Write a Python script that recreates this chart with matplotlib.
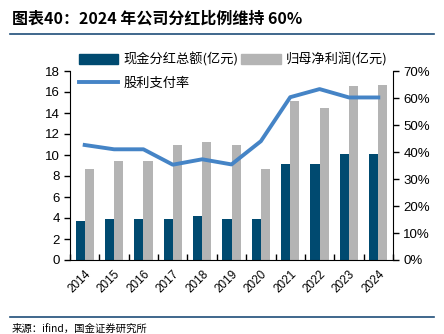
import matplotlib
matplotlib.use("Agg")
import matplotlib.pyplot as plt
from matplotlib.lines import Line2D
import numpy as np

plt.rcParams['font.family'] = ['Noto Sans CJK SC', 'DejaVu Sans']

years = ['2014', '2015', '2016', '2017', '2018', '2019', '2020', '2021', '2022', '2023', '2024']
dividend = [3.7, 3.9, 3.9, 3.9, 4.2, 3.9, 3.9, 9.1, 9.1, 10.1, 10.1]
profit = [8.7, 9.4, 9.4, 10.95, 11.2, 11.0, 8.7, 15.1, 14.5, 16.6, 16.7]
payout = [42.6, 41.0, 41.0, 35.3, 37.3, 35.4, 44.0, 60.3, 63.3, 60.2, 60.2]

title = '图表40：2024 年公司分红比例维持 60%'
source = '来源：ifind，国金证券研究所'
labels = ['现金分红总额(亿元)', '归母净利润(亿元)', '股利支付率']

dark = '#004a70'
gray = '#b4b4b4'
lineblue = '#4584c6'
numfont = ['Liberation Sans', 'DejaVu Sans']

fig = plt.figure(figsize=(4.44, 3.34), dpi=100)
W, H = 444, 334
ax = fig.add_axes([70 / W, 1 - 260 / H, (393 - 70) / W, (260 - 71) / H])
ax2 = ax.twinx()

x = np.arange(len(years))
bw = 0.31
ax.bar(x - bw / 2, dividend, width=bw, color=dark, zorder=2)
ax.bar(x + bw / 2, profit, width=bw, color=gray, zorder=2)
ax2.plot(x, payout, color=lineblue, lw=2.8, zorder=3)

ax.set_ylim(0, 18)
ax.set_yticks(range(0, 19, 2))
ax2.set_ylim(0, 70)
ax2.set_yticks(range(0, 71, 10))
ax2.set_yticklabels([f'{v}%' for v in range(0, 71, 10)])
ax.set_xlim(-0.5, len(years) - 0.5)
ax.set_xticks(np.arange(len(years) + 1) - 0.5, minor=False)
ax.set_xticklabels([])
ax.set_xticks(x, minor=True)
ax.set_xticklabels(years, minor=True, rotation=45, ha='right', rotation_mode='anchor', fontsize=8.5,
                   family=numfont)
ax.tick_params(axis='x', which='minor', length=0, pad=6)
ax.tick_params(axis='x', which='major', length=4, direction='in', width=1)
for a in (ax, ax2):
    a.tick_params(axis='y', direction='out', length=4, labelsize=9.5, width=1)
    for s in a.spines.values():
        s.set_visible(False)
ax.spines['left'].set_visible(True)
ax.spines['bottom'].set_visible(True)
ax2.spines['right'].set_visible(True)
for lab in ax.get_yticklabels() + ax2.get_yticklabels():
    lab.set_family(numfont)

handles = [plt.Rectangle((0, 0), 1, 1, color=dark), Line2D([0], [0], color=lineblue, lw=2.8),
           plt.Rectangle((0, 0), 1, 1, color=gray)]
hl = [labels[0], labels[2], labels[1]]
ax.legend(handles, hl, loc='upper left', bbox_to_anchor=(0.01, 1.125), ncol=2, frameon=False,
          fontsize=9.5, handlelength=3.0, handleheight=0.8, columnspacing=0.2, labelspacing=0.75,
          handletextpad=0.4, borderaxespad=0)

fig.text(12 / W, 1 - 19 / H, title, fontsize=11.5, fontweight='bold', style='italic', va='center', ha='left')
fig.add_artist(Line2D([10 / W, 434 / W], [1 - 34 / H, 1 - 34 / H], color='#1f4e79', lw=1.2))
fig.add_artist(Line2D([10 / W, 434 / W], [1 - 317 / H, 1 - 317 / H], color='#1f4e79', lw=1.2))
fig.text(12 / W, 1 - 329 / H, source, fontsize=7.5, va='center', ha='left')

fig.savefig('out.png', dpi=100)
